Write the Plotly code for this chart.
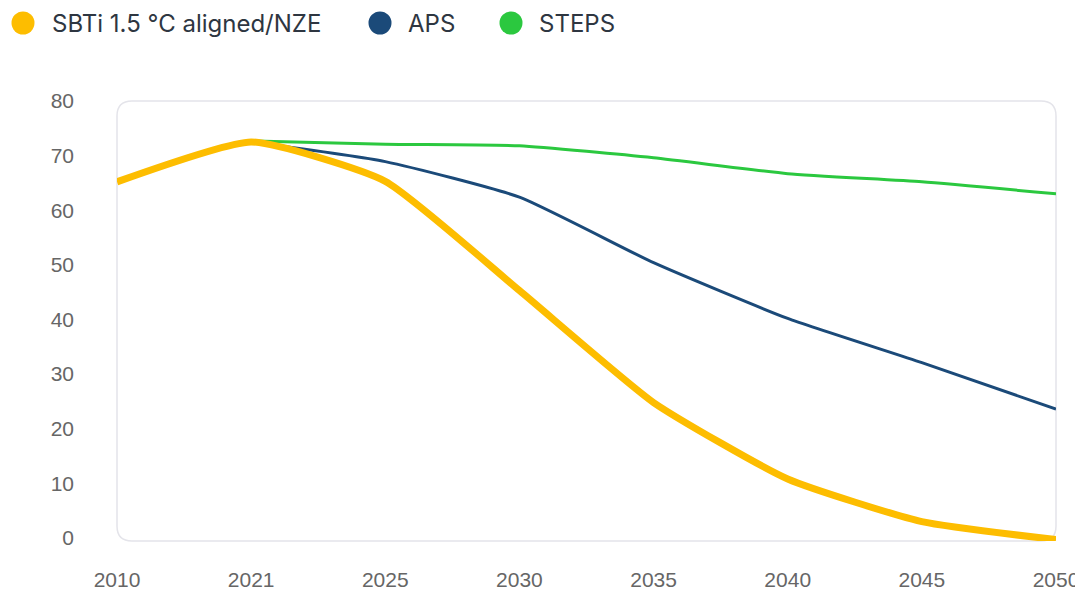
import plotly.graph_objects as go

years = ["2010", "2021", "2025", "2030", "2035", "2040", "2045", "2050"]
sbti = [65.2, 72.5, 65.3, 45.3, 24.8, 10.8, 3.0, -0.3]
aps = [None, 72.5, 68.9, 62.4, 50.4, 40.2, 32.1, 23.6]
steps = [None, 72.7, 72.1, 71.8, 69.6, 66.7, 65.2, 63.0]
y_ticks = [0, 10, 20, 30, 40, 50, 60, 70, 80]

names = ["SBTi 1.5 °C aligned/NZE", "APS", "STEPS"]
colors = ["#FDBD00", "#1B4A79", "#2BC83F"]

# page has an 8px body margin, so the figure is sized to fit inside it
W, H = 1075, 586
ml, mr, mt, mb = 109, 27, 93, 53
pw, ph = W - ml - mr, H - mt - mb

tick_font = dict(family="Liberation Sans, Arial, sans-serif", size=21, color="#666666")
leg_font = dict(family="Inter, sans-serif", size=24, color="#2E3641")

fig = go.Figure()
fig.add_trace(go.Scatter(x=years, y=steps, mode="lines", line=dict(color=colors[2], width=3, shape="spline", smoothing=0.5),
                         showlegend=False, hoverinfo="x+y", name=names[2]))
fig.add_trace(go.Scatter(x=years, y=aps, mode="lines", line=dict(color=colors[1], width=3, shape="spline", smoothing=0.5),
                         showlegend=False, hoverinfo="x+y", name=names[1]))
fig.add_trace(go.Scatter(x=years, y=sbti, mode="lines", line=dict(color=colors[0], width=7, shape="spline", smoothing=0.5),
                         showlegend=False, hoverinfo="x+y", name=names[0]))

# legend drawn as circles + text above the plot
def px_x(fx):
    return (fx - ml) / pw

def px_y(fy):
    return (H - mb - fy) / ph

leg_circle_x = [15, 372, 503]   # circle centres, px from figure left
leg_text_x = [42, 398, 529]     # text starts
leg_y = 15
r = 11.5
for n, c, cx, tx in zip(names, colors, leg_circle_x, leg_text_x):
    fig.add_shape(type="circle", xref="paper", yref="paper",
                  xsizemode="pixel", ysizemode="pixel",
                  xanchor=px_x(cx), yanchor=px_y(leg_y),
                  x0=-r, x1=r, y0=-r, y1=r,
                  fillcolor=c, line=dict(width=0))
    fig.add_annotation(text=n, xref="paper", yref="paper", x=px_x(tx), y=px_y(leg_y),
                       xanchor="left", yanchor="middle", showarrow=False, font=leg_font)

rx, ry = 15 / pw, 15 / ph
path = (f"M {rx},0 L {1-rx},0 Q 1,0 1,{ry} L 1,{1-ry} Q 1,1 {1-rx},1 "
        f"L {rx},1 Q 0,1 0,{1-ry} L 0,{ry} Q 0,0 {rx},0 Z")
fig.add_shape(type="path", path=path, xref="paper", yref="paper",
              line=dict(color="#E4E4EA", width=1.5), layer="below")

fig.update_layout(
    width=W, height=H,
    margin=dict(l=ml, r=mr, t=mt, b=mb, autoexpand=False),
    plot_bgcolor="white", paper_bgcolor="white",
    showlegend=False,
    font=dict(family="Liberation Sans, Arial, sans-serif", color="#666666", size=17),
    xaxis=dict(type="category", range=[0, 7], showgrid=False, zeroline=False,
               showline=False, ticks="", ticklabelstandoff=24, automargin=False,
               tickfont=tick_font),
    yaxis=dict(range=[-0.55, 80], tickvals=y_ticks, showgrid=False, zeroline=False,
               showline=False, ticks="", ticklabelstandoff=42, automargin=False,
               tickfont=tick_font),
)

fig.write_html("out.html")
